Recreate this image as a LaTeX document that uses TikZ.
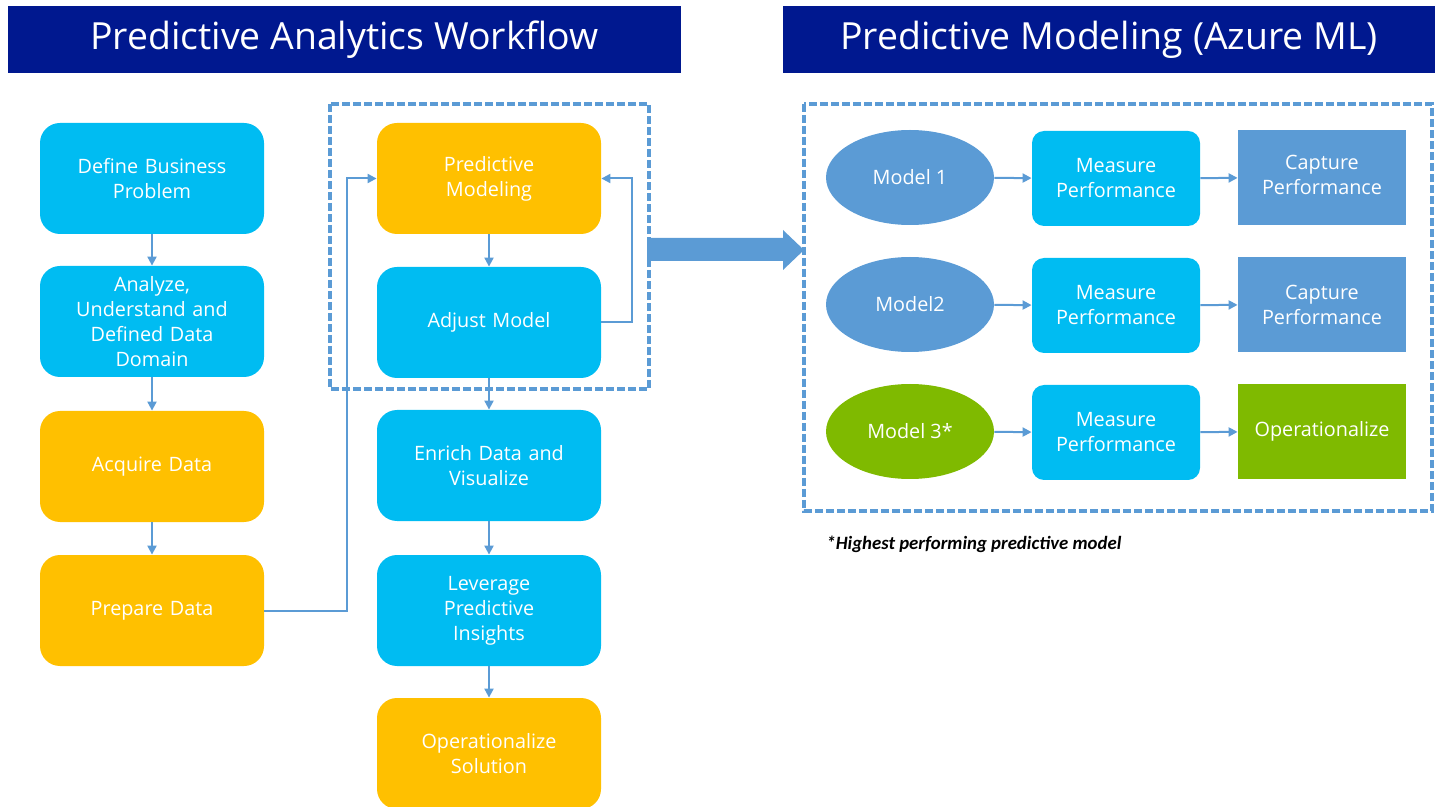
\documentclass[tikz,border=0pt]{standalone}
\usepackage{fontspec}
\setmainfont{Open Sans}
\newfontfamily\notefont{Carlito}
\usetikzlibrary{arrows.meta,shapes.geometric}
\definecolor{navy}{HTML}{00188F}
\definecolor{skyblue}{HTML}{00BCF2}
\definecolor{amber}{HTML}{FFC000}
\definecolor{steel}{HTML}{5B9BD5}
\definecolor{leaf}{HTML}{7FBA00}
\tikzset{
  flow/.style={rounded corners=10pt, minimum width=112pt, minimum height=55.5pt,
    inner sep=0pt, text width=106pt, align=center, text=white,
    font=\fontsize{9.9}{12.5}\selectfont},
  bluebox/.style={flow, fill=skyblue},
  goldbox/.style={flow, fill=amber},
  banner/.style={fill=navy, text=white, minimum height=33.5pt, inner sep=0pt,
    font=\fontsize{18.7}{22}\selectfont},
  model/.style={ellipse, minimum width=84pt, minimum height=47.5pt, inner sep=0pt,
    text=white, font=\fontsize{9.9}{12.5}\selectfont},
  measure/.style={rounded corners=6pt, fill=skyblue, minimum width=84pt,
    minimum height=47.5pt, inner sep=0pt, text width=82pt, align=center,
    text=white, font=\fontsize{9.9}{12.5}\selectfont},
  result/.style={minimum width=84pt, minimum height=47.5pt, inner sep=0pt,
    text width=82pt, align=center, text=white, font=\fontsize{9.9}{12.5}\selectfont},
  link/.style={draw=steel, line width=1pt, -{Triangle[length=4.5pt,width=4.5pt]}},
  dashbox/.style={draw=steel, line width=1.7pt, dash pattern=on 3.8pt off 1.7pt}
}
\begin{document}
\begin{tikzpicture}[x=0.5pt, y=-0.5pt]
  \useasboundingbox (0,0) rectangle (1435,807);
  % headings
  \node[banner, minimum width=336.5pt] (lefttitle) at (344.5,39.5) {Predictive Analytics Workflow};
  \node[banner, minimum width=326pt] (righttitle) at (1109,39.5) {Predictive Modeling (Azure ML)};
  % dashed frames
  \draw[dashbox] (330,104) rectangle (649,389);
  \draw[dashbox] (804,104) rectangle (1432,511);
  % workflow, first column
  \node[bluebox] (define) at (152,178.5) {Define Business\\Problem};
  \node[bluebox] (analyze) at (152,321.5) {Analyze,\\Understand and\\Defined Data\\Domain};
  \node[goldbox] (acquire) at (152,466.5) {Acquire Data};
  \node[goldbox] (prepare) at (152,610.5) {Prepare Data};
  % workflow, second column
  \node[goldbox] (predictive) at (489,178.5) {Predictive\\Modeling};
  \node[bluebox] (adjust) at (489,322.5) {Adjust Model};
  \node[bluebox] (enrich) at (489,465.5) {Enrich Data and\\Visualize};
  \node[bluebox] (leverage) at (489,610.5) {Leverage\\Predictive\\Insights};
  \node[goldbox] (deploy) at (489,753.5) {Operationalize\\Solution};
  \draw[link] (define) -- (analyze);
  \draw[link] (analyze) -- (acquire);
  \draw[link] (acquire) -- (prepare);
  \draw[link] (prepare.east) -- ++(83,0) |- (predictive.west);
  \draw[link] (predictive) -- (adjust);
  \draw[link] (adjust.east) -- ++(31,0) |- (predictive.east);
  \draw[link] (adjust) -- (enrich);
  \draw[link] (enrich) -- (leverage);
  \draw[link] (leverage) -- (deploy);
  % big arrow
  \fill[steel] (647,238) -- (783,238) -- (783,230) -- (804,250) -- (783,270)
    -- (783,261) -- (647,261) -- cycle;
  % model rows
  \node[model, fill=steel] (m1) at (910,177.5) {Model 1};
  \node[model, fill=steel] (m2) at (910,304.5) {Model2};
  \node[model, fill=leaf] (m3) at (910,431.5) {Model 3*};
  \node[measure] (mp1) at (1116,178.5) {Measure\\Performance};
  \node[measure] (mp2) at (1116,305.5) {Measure\\Performance};
  \node[measure] (mp3) at (1116,432.5) {Measure\\Performance};
  \node[result, fill=steel] (cp1) at (1322,177.5) {Capture\\Performance\vphantom{p}};
  \node[result, fill=steel] (cp2) at (1322,304.5) {Capture\\Performance};
  \node[result, fill=leaf] (op3) at (1322,431.5) {Operationalize};
  \draw[link] (m1) -- (mp1);
  \draw[link] (mp1) -- (cp1);
  \draw[link] (m2) -- (mp2);
  \draw[link] (mp2) -- (cp2);
  \draw[link] (m3) -- (mp3);
  \draw[link] (mp3) -- (op3);
  \node[anchor=west, inner sep=0pt, font=\notefont\bfseries\itshape\fontsize{9.4}{11}\selectfont]
    (note) at (826,544) {*Highest performing predictive model};
\end{tikzpicture}
\end{document}
